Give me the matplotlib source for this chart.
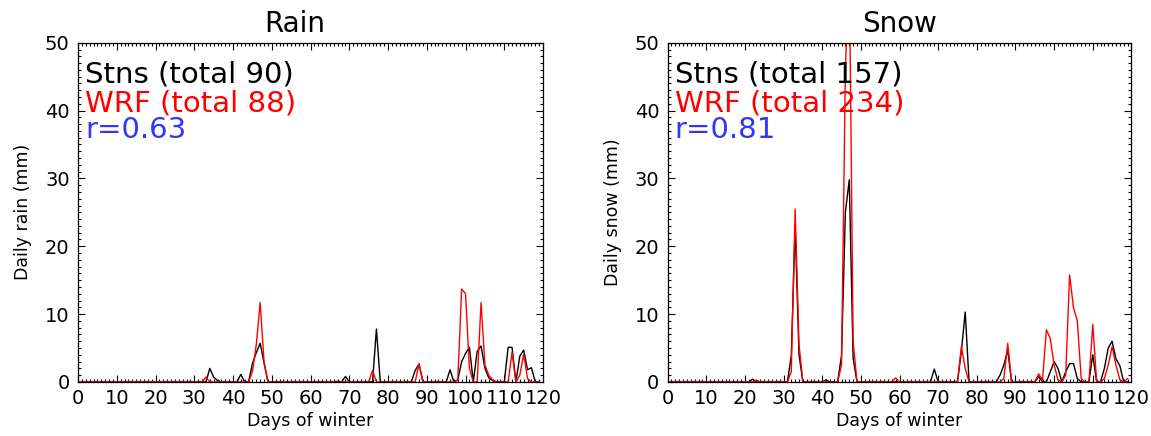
import numpy as np
import matplotlib
matplotlib.use("Agg")
from matplotlib import pyplot as plt
from matplotlib.ticker import MultipleLocator

days = np.arange(0, 120)

# daily values (mm), keyed by day of winter
rain_stns = {34: 2.0, 35: 0.7, 36: 0.2, 42: 1.1, 45: 2.7, 46: 4.3, 47: 5.7, 48: 2.8,
             67: 0.1, 69: 0.8, 77: 7.8, 87: 1.7, 88: 2.6, 96: 1.8, 98: 0.3, 99: 3.0,
             100: 4.2, 101: 5.1, 103: 4.5, 104: 5.3, 105: 2.0, 106: 0.6, 107: 0.2,
             111: 5.1, 112: 5.1, 114: 3.8, 115: 4.7, 116: 1.8, 117: 2.1}
rain_wrf = {33: 0.7, 45: 1.5, 46: 5.5, 47: 11.7, 48: 3.0, 76: 1.7, 88: 2.7, 98: 0.3,
            99: 13.7, 100: 13.0, 101: 2.0, 104: 11.7, 105: 2.5, 106: 1.0, 107: 0.3,
            112: 4.4, 114: 1.0, 115: 4.1, 116: 0.5}
snow_stns = {22: 0.4, 32: 3.9, 33: 23.0, 34: 4.0, 41: 0.3, 45: 3.9, 46: 25.0, 47: 29.8,
             48: 3.5, 69: 1.9, 76: 4.5, 77: 10.3, 86: 1.0, 87: 2.5, 88: 4.7, 96: 0.8,
             99: 1.5, 100: 3.0, 101: 2.0, 103: 1.5, 104: 2.7, 105: 2.7, 106: 0.5,
             110: 4.0, 113: 2.0, 114: 5.0, 115: 6.0, 116: 3.4, 117: 2.4}
snow_wrf = {23: 0.25, 32: 1.5, 33: 25.5, 34: 5.5, 45: 2.5, 46: 46.0, 47: 62.0, 48: 6.0,
            59: 0.6, 76: 5.2, 77: 2.0, 87: 0.5, 88: 5.7, 96: 1.2, 97: 0.3, 98: 7.7,
            99: 6.4, 100: 2.5, 101: 0.3, 103: 1.0, 104: 15.8, 105: 11.0, 106: 9.0,
            107: 0.5, 110: 8.5, 113: 0.5, 114: 2.5, 115: 5.2, 116: 2.5, 117: 0.3, 119: 0.5}

totals = {"Rain": (90, 88, 0.63), "Snow": (157, 234, 0.81)}


def series(d):
    s = np.zeros(len(days))
    for k, v in d.items():
        s[k] = v
    return s


fig = plt.figure(figsize=(11.51, 4.36), dpi=100)
ax1 = fig.add_axes([0.0678, 0.124, 0.404, 0.778])
ax2 = fig.add_axes([0.580, 0.124, 0.403, 0.778])

panels = [(ax1, "Rain", rain_stns, rain_wrf, 0.467),
          (ax2, "Snow", snow_stns, snow_wrf, 0.5)]

for ax, name, stns, wrf, tx in panels:
    ax.plot(days, series(stns), color="black", lw=1.0)
    ax.plot(days, series(wrf), color="red", lw=1.0)
    ax.set_xlim(0, 120)
    ax.set_ylim(0, 50)
    ax.xaxis.set_major_locator(MultipleLocator(10))
    ax.xaxis.set_minor_locator(MultipleLocator(1))
    ax.yaxis.set_major_locator(MultipleLocator(10))
    ax.yaxis.set_minor_locator(MultipleLocator(1))
    ax.tick_params(which="both", direction="in", top=True, right=True, width=0.8)
    ax.tick_params(which="major", length=5, labelsize=14)
    ax.tick_params(which="minor", length=2.5)
    ax.tick_params(axis="x", pad=5)
    ax.tick_params(axis="y", pad=6)
    for sp in ax.spines.values():
        sp.set_linewidth(0.9)
    ax.set_title(name, fontsize=20, x=tx, pad=8)
    ax.set_xlabel("Days of winter", fontsize=12.5, labelpad=3)
    ax.set_ylabel("Daily %s (mm)" % name.lower(), fontsize=12.5, labelpad=9)
    st, wr, r = totals[name]
    ax.text(0.015, 0.905, "Stns (total %d)" % st, transform=ax.transAxes,
            fontsize=21, color="black", va="center")
    ax.text(0.015, 0.822, "WRF (total %d)" % wr, transform=ax.transAxes,
            fontsize=21, color="red", va="center")
    ax.text(0.015, 0.742, "r=%.2f" % r, transform=ax.transAxes,
            fontsize=21, color="#3333ff", va="center")

plt.savefig("out.png", dpi=100)
plt.close()
